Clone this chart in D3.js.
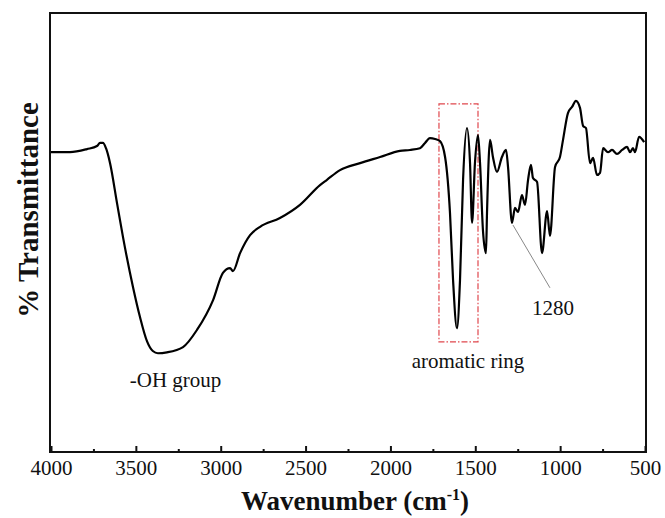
<!DOCTYPE html>
<html>
<head>
<meta charset="utf-8">
<script src="https://cdn.jsdelivr.net/npm/d3@7"></script>
<style>
  body { margin: 0; background: #fff; }
  svg text { font-family: "Liberation Serif", "Times New Roman", serif; fill: #111; }
</style>
</head>
<body>
<svg id="chart" width="665" height="518"></svg>
<script>
// FTIR spectrum — % Transmittance vs wavenumber (reversed x axis)

// Data -------------------------------------------------------------
const wavenumber = [4000, 3888, 3788, 3729, 3711, 3694, 3676, 3652, 3611, 3576,
  3517, 3476, 3434, 3400, 3370, 3317, 3222, 3140, 3045, 2987, 2945,
  2928, 2886, 2827, 2768, 2651, 2533, 2415, 2374, 2297, 2179,
  2061, 1944, 1885, 1826, 1796, 1767, 1737, 1708, 1678, 1649,
  1631, 1608, 1590, 1572, 1549, 1531, 1519, 1502, 1484, 1472,
  1455, 1437, 1431, 1413, 1396, 1372, 1343, 1319, 1307, 1284,
  1266, 1248, 1225, 1207, 1189, 1172, 1160, 1136, 1107, 1077,
  1060, 1030, 1001, 983, 954, 930, 907, 883, 865, 848,
  824, 806, 783, 765, 747, 718, 694, 665, 635, 606,
  588, 571, 559, 535, 505];
const transmittance = [68.3, 68.3, 69.0, 69.7, 70.4, 70.4, 69.2, 65.8, 56.7, 49.0,
  37.6, 30.8, 25.2, 23.0, 22.5, 22.7, 23.9, 27.8, 34.6, 40.8, 41.9,
  41.2, 45.3, 49.4, 51.3, 53.3, 56.3, 60.8, 62.0, 64.2, 65.8,
  67.2, 68.6, 68.8, 69.2, 70.4, 71.5, 71.3, 70.8, 67.2, 54.4,
  39.2, 28.2, 39.2, 62.0, 73.8, 65.8, 52.2, 65.8, 72.2, 65.8,
  50.6, 45.3, 54.4, 71.1, 67.2, 63.8, 67.2, 68.8, 64.9, 52.2,
  55.6, 54.7, 58.5, 56.3, 62.0, 65.4, 62.4, 61.5, 45.3, 54.9,
  49.2, 64.9, 67.2, 71.1, 77.2, 78.6, 80.0, 78.4, 74.3, 73.8,
  65.8, 67.0, 63.1, 63.6, 69.2, 68.3, 68.8, 67.9, 68.8, 69.5,
  68.3, 69.2, 68.3, 71.8, 70.6];

const majorTicks = [4000, 3500, 3000, 2500, 2000, 1500, 1000, 500];
const minorTicks = [3750, 3250, 2750, 2250, 1750, 1250, 750];

// annotations: text, wavenumber, transmittance (baseline)
const labelText = ["-OH group", "aromatic ring", "1280"];
const labelWn   = [3266, 1543, 1042];
const labelT    = [14.8, 19.1, 31.2];

// highlight box (aromatic ring) and leader line for 1280
const boxWn = [1714, 1484];
const boxT  = [79.3, 25.1];
const leaderWn = [1278, 1060];
const leaderT  = [51.7, 37.4];

// Layout -----------------------------------------------------------
const plot = { left: 51, right: 645, top: 13, bottom: 452 };
const svg = d3.select("#chart");

const x = d3.scaleLinear().domain([4000, 500]).range([plot.left, plot.right]);
const y = d3.scaleLinear().domain([0, 100]).range([plot.bottom, plot.top]);

// Frame ------------------------------------------------------------
svg.append("rect")
  .attr("x", plot.left - 1).attr("y", plot.top)
  .attr("width", plot.right - plot.left + 2).attr("height", plot.bottom - plot.top)
  .attr("fill", "none").attr("stroke", "#111").attr("stroke-width", 2);

// Axes -------------------------------------------------------------
const xAxisG = svg.append("g").attr("transform", `translate(0,${plot.bottom})`)
  .call(d3.axisBottom(x).tickValues(majorTicks).tickSize(-6).tickPadding(8)
    .tickFormat(d3.format("d")));
xAxisG.select(".domain").remove();
xAxisG.selectAll("line").attr("stroke", "#111").attr("stroke-width", 2);
xAxisG.selectAll("text").style("font-size", "21px").attr("fill", "#111");

const minorG = svg.append("g").attr("transform", `translate(0,${plot.bottom})`)
  .call(d3.axisBottom(x).tickValues(minorTicks).tickSize(-3).tickFormat(""));
minorG.select(".domain").remove();
minorG.selectAll("line").attr("stroke", "#111").attr("stroke-width", 2);

// Axis titles ------------------------------------------------------
const xt = svg.append("text")
  .attr("x", 355).attr("y", 510)
  .attr("text-anchor", "middle")
  .style("font-size", "27px").style("font-weight", "bold");
xt.append("tspan").text("Wavenumber (cm");
xt.append("tspan").text("-1").attr("dy", -10).style("font-size", "16px");
xt.append("tspan").text(")").attr("dy", 10);

svg.append("text")
  .attr("transform", `translate(38,210) rotate(-90)`)
  .attr("text-anchor", "middle")
  .style("font-size", "29px").style("font-weight", "bold")
  .text("% Transmittance");

// Highlight box ----------------------------------------------------
svg.append("rect")
  .attr("x", x(boxWn[0])).attr("y", y(boxT[0]))
  .attr("width", x(boxWn[1]) - x(boxWn[0]))
  .attr("height", y(boxT[1]) - y(boxT[0]))
  .attr("fill", "none").attr("stroke", "#e0474c").attr("stroke-width", 1.2)
  .attr("stroke-dasharray", "6,2,1.5,2");

// Spectrum ---------------------------------------------------------
const pts = wavenumber.map((w, i) => [w, transmittance[i]]);
svg.append("path")
  .datum(pts)
  .attr("fill", "none").attr("stroke", "#000").attr("stroke-width", 2.2)
  .attr("stroke-linejoin", "round")
  .attr("d", d3.line().x(d => x(d[0])).y(d => y(d[1])).curve(d3.curveMonotoneX));

// Leader line ------------------------------------------------------
svg.append("line")
  .attr("x1", x(leaderWn[0])).attr("y1", y(leaderT[0]))
  .attr("x2", x(leaderWn[1])).attr("y2", y(leaderT[1]))
  .attr("stroke", "#888").attr("stroke-width", 1);

// Labels -----------------------------------------------------------
svg.selectAll("text.note")
  .data(labelText)
  .join("text")
  .attr("class", "note")
  .attr("x", (d, i) => x(labelWn[i]))
  .attr("y", (d, i) => y(labelT[i]))
  .attr("text-anchor", "middle")
  .style("font-size", "21px")
  .text(d => d);
</script>
</body>
</html>
